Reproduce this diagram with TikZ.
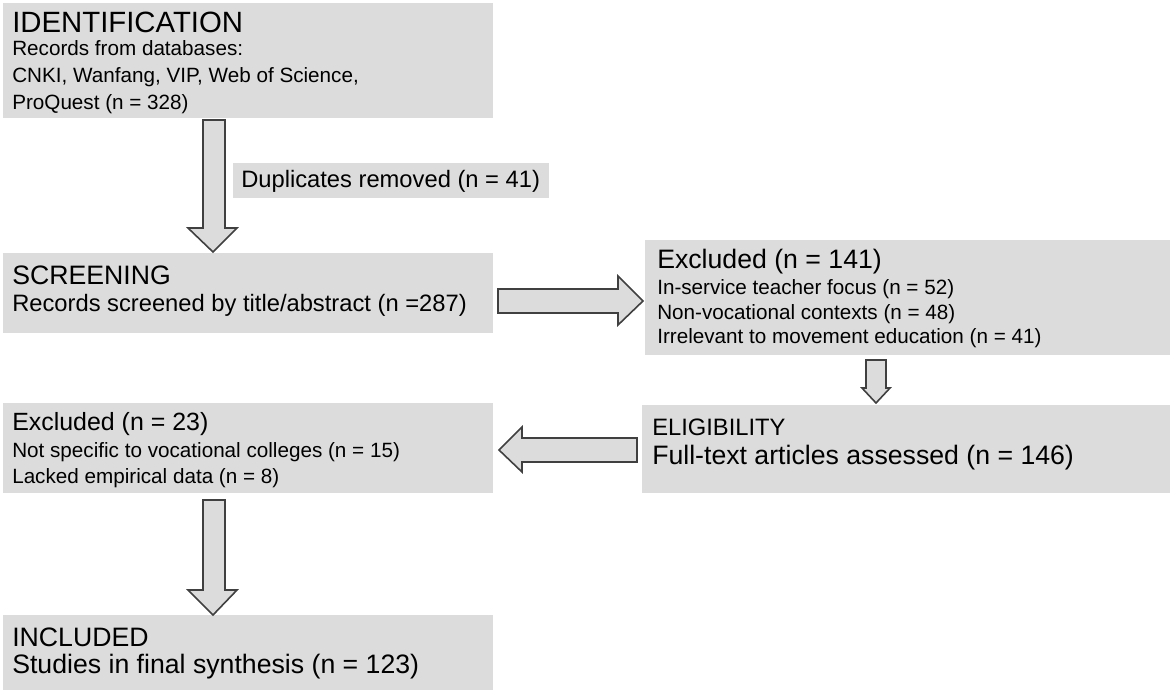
\documentclass[tikz,border=0pt]{standalone}
\usepackage{fontspec}
\setmainfont{Liberation Sans}
\begin{document}
\begin{tikzpicture}[x=0.75pt,y=-0.75pt,
  box/.style={fill=boxgray,draw=none},
  blk/.style={fill=boxgray,draw=black!75,line width=1.2pt,line join=miter},
  txt/.style={anchor=west,inner sep=0pt,align=left},
  huge/.style={font=\fontsize{22}{26}\selectfont},
  big/.style={font=\fontsize{20}{24}\selectfont},
  mid/.style={font=\fontsize{17.8}{21}\selectfont},
  sml/.style={font=\fontsize{15.5}{19}\selectfont}]
\definecolor{boxgray}{HTML}{DCDCDC}
\useasboundingbox (0,0) rectangle (1174,695);
% boxes
\fill[box] (3,3) rectangle (493,118);
\fill[box] (233,163) rectangle (549,198);
\fill[box] (3,253) rectangle (493,333);
\fill[box] (645,240) rectangle (1170,355);
\fill[box] (642,405) rectangle (1170,493);
\fill[box] (3,403) rectangle (493,493);
\fill[box] (3,615) rectangle (493,690);
% texts
\node[txt,huge] (t1) at (12,22) {IDENTIFICATION};
\node[txt,sml,font=\fontsize{15.5}{20.3}\selectfont] (t1b) at (12,77) {Records from databases:\\CNKI, Wanfang, VIP, Web of Science,\\ProQuest (n = 328)};
\node[txt,mid] (dup) at (241,181) {Duplicates removed (n = 41)};
\node[txt,big] (t2) at (12,275) {SCREENING};
\node[txt,mid] (t2b) at (12,305) {Records screened by title/abstract (n =287)};
\node[txt,big] (t3) at (657,262) {Excluded (n = 141)};
\node[txt,sml,font=\fontsize{15.5}{18.3}\selectfont] (t3b) at (657,314) {In-service teacher focus (n = 52)\\Non-vocational contexts (n = 48)\\Irrelevant to movement education (n = 41)};
\node[txt,font=\fontsize{17.8}{20}\selectfont] (t4) at (652,427) {ELIGIBILITY};
\node[txt,big] (t4b) at (652,458) {Full-text articles assessed (n = 146)};
\node[txt,font=\fontsize{18.7}{22}\selectfont] (t5) at (12,424) {Excluded (n = 23)};
\node[txt,sml] (t5b) at (12,465) {Not specific to vocational colleges (n = 15)\\Lacked empirical data (n = 8)};
\node[txt,big] (t6) at (12,637) {INCLUDED};
\node[txt,big] (t6b) at (12,667) {Studies in final synthesis (n = 123)};
% block arrows
\draw[blk] (203,120) -- (225,120) -- (225,228) -- (237,228) -- (213,252) -- (188,228) -- (203,228) -- cycle;
\draw[blk] (498,289) -- (618,289) -- (618,276) -- (643,301) -- (618,325) -- (618,313) -- (498,313) -- cycle;
\draw[blk] (866,360) -- (886,360) -- (886,388) -- (890,388) -- (876,403) -- (862,388) -- (866,388) -- cycle;
\draw[blk] (637,438) -- (522,438) -- (522,427) -- (499,450) -- (522,472) -- (522,462) -- (637,462) -- cycle;
\draw[blk] (203,500) -- (225,500) -- (225,590) -- (237,590) -- (213,615) -- (188,590) -- (203,590) -- cycle;
\end{tikzpicture}
\end{document}
